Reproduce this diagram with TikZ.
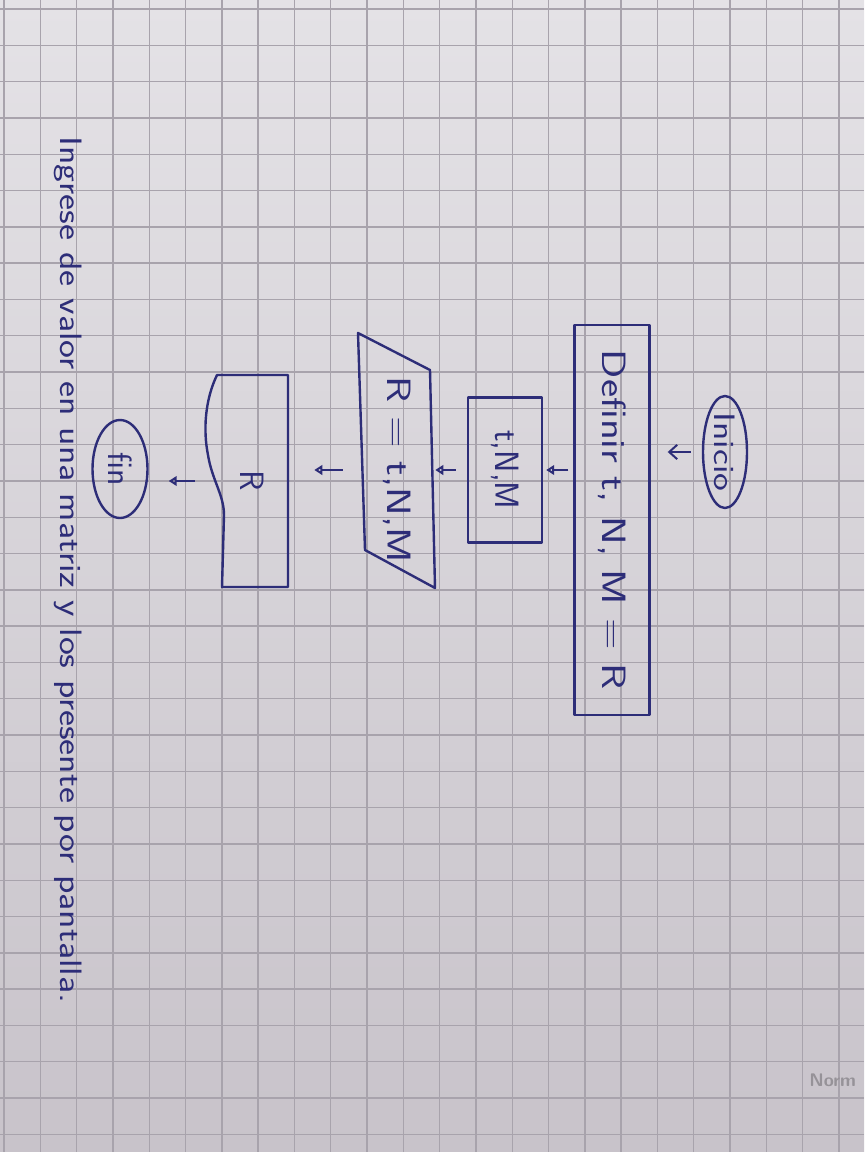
\documentclass[tikz,border=0pt]{standalone}
\usepackage{tikz}
\usetikzlibrary{shapes.geometric,arrows.meta}

\definecolor{tinta}{RGB}{45,45,120}
\definecolor{papel}{RGB}{228,226,230}
\definecolor{papelb}{RGB}{200,195,202}
\definecolor{cuadro}{RGB}{168,163,172}
\definecolor{marca}{RGB}{150,146,152}
\newcommand{\ancho}[2][1.28]{\scalebox{#1}[1]{#2}}

\begin{document}
\begin{tikzpicture}[x=0.25mm,y=-0.25mm,
  trazo/.style={draw=tinta, line width=0.6mm, line join=round},
  texto/.style={text=tinta, font=\sffamily\fontsize{24}{28}\selectfont, rotate=-90, inner sep=0pt},
  term/.style={texto, trazo, ellipse},
  proc/.style={texto, trazo, rectangle},
  flecha/.style={tinta, line width=0.5mm, -{Triangle[open,length=2mm,width=2.4mm]}}]
\clip (0,0) rectangle (864,1152);
% hoja cuadriculada
\shade[top color=papel, bottom color=papelb] (0,0) rectangle (864,1152);
\foreach \i in {0,...,24}
  \draw[cuadro, line width=0.35mm] (4+36.3*\i,0) -- (4+36.3*\i,1152);
\foreach \j in {0,...,32}
  \draw[cuadro, line width=0.35mm] (0,9+36.3*\j) -- (864,9+36.3*\j);
\node[anchor=east, text=marca, font=\sffamily\bfseries\fontsize{13}{15}\selectfont] (norma) at (861,1080) {Norm};

% titulo
\node[texto, font=\sffamily\fontsize{22}{26}\selectfont] (titulo) at (68,570)
  {\ancho[1.23]{Ingrese de valor en una matriz y los presente por pantalla.}};

% diagrama
\node[term, font=\sffamily\fontsize{21}{25}\selectfont, minimum width=28mm, minimum height=11mm] (inicio) at (725,452) {\ancho{Inicio}};
\node[proc, minimum width=97.5mm, minimum height=18.75mm] (definir) at (612,520) {\ancho{Definir t, N, M = R}};
\node[proc, minimum width=36.25mm, minimum height=18.5mm] (tnm) at (505,470) {t,N,M};
\node[texto, minimum width=55mm, minimum height=18mm] (salida) at (397,470) {\ancho{R = t,N,M}};
\draw[trazo] (358,333) -- (430,370) -- (435,588) -- (365,550) -- cycle;
\node[texto, minimum width=53mm, minimum height=18.5mm] (doc) at (252,481) {R};
\draw[trazo] (224,515) -- (222,587) -- (288,587) -- (288,375) -- (217,375)
  .. controls (205,400) and (203,430) .. (208,455)
  .. controls (212,480) and (224,495) .. (224,515);
\node[term, minimum width=24.5mm, minimum height=13.75mm] (fin) at (120,469) {fin};

\draw[flecha, -{Straight Barb[length=2mm,width=3.6mm]}, shorten <=2.75mm, shorten >=4.25mm]
  (inicio.south) -- (inicio.south -| definir.north);
\draw[flecha, shorten <=1.25mm, shorten >=0.75mm] (definir.south |- tnm) -- (tnm.north);
\draw[flecha, shorten <=2.75mm, shorten >=0.5mm] (tnm.south) -- (tnm.south -| salida.north);
\draw[flecha, shorten <=4.5mm, shorten >=6.25mm] (salida.south) -- (salida.south -| doc.north);
\draw[flecha, shorten <=5mm, shorten >=5mm] (doc.south) -- (doc.south -| fin.north);
\end{tikzpicture}
\end{document}
